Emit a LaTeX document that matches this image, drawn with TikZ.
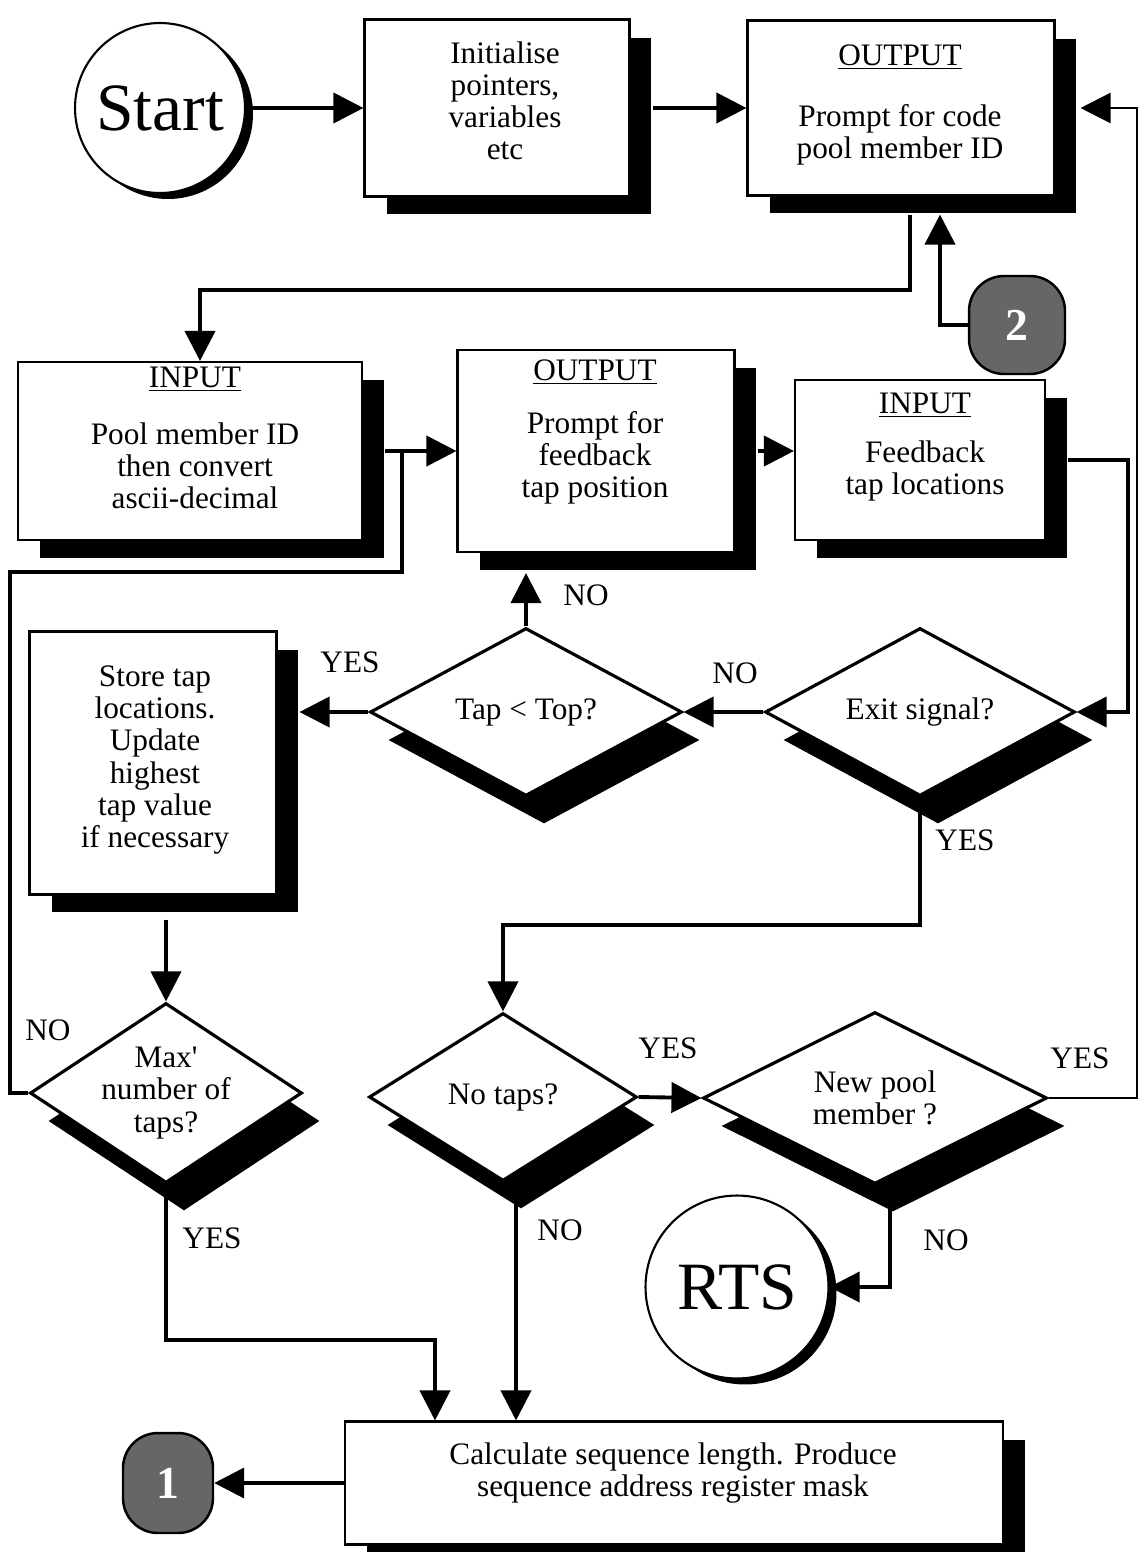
\documentclass[tikz,border=0pt]{standalone}
\usepackage{fontspec}
\setmainfont{Liberation Serif}
\newfontfamily\plainserif{Liberation Serif}[Ligatures=TeXOff]
\usetikzlibrary{shapes.geometric,shadows,arrows.meta,calc}
\begin{document}
\begin{tikzpicture}[x=0.02cm,y=-0.02cm,
  every node/.style={font=\fontsize{17.8}{18.3}\selectfont},
  box/.style={draw, line width=1.2pt, fill=white, rectangle, inner sep=0pt,
    drop shadow={shadow xshift=0.44cm, shadow yshift=-0.36cm, fill=black, opacity=1}},
  dia/.style={diamond, shape aspect=1.5, draw, line width=1.8pt, fill=white, inner sep=0pt, align=center,
    drop shadow={shadow xshift=0.36cm, shadow yshift=-0.56cm, fill=black, opacity=1}},
  term/.style={circle, draw, line width=1.2pt, fill=white, inner sep=0pt, font=\fontsize{38.5}{38.5}\selectfont,
    drop shadow={shadow xshift=0.16cm, shadow yshift=-0.12cm, fill=black, opacity=1}},
  conn/.style={draw, line width=1.4pt, fill=black!60, rounded corners=0.7cm, inner sep=0pt, text=white,
    font=\bfseries\fontsize{26}{26}\selectfont},
  txt/.style={align=center, inner sep=0pt},
  lbl/.style={inner sep=0pt},
  ln/.style={line width=2.2pt},
  arr/.style={line width=2.2pt, -{Triangle[length=0.6cm,width=0.6cm]}},
]
\path[use as bounding box] (0,0) rectangle (1139,1552);

% shapes
\node[term, minimum size=3.4cm] (start) at (160,108) {Start};
\node[box, minimum width=5.3cm, minimum height=3.54cm] (init) at (497,108) {};
\node[txt] (initT) at (505,101) {Initialise\\pointers,\\variables\\etc};
\node[box, minimum width=6.14cm, minimum height=3.5cm] (out1) at (901,108) {};
\node[txt] (out1T) at (900,105) {\underline{OUTPUT}\\[16.5pt]Prompt for code\\pool member ID};
\node[conn, minimum width=1.92cm, minimum height=1.96cm] (c2) at (1017,325) {2};

\node[box, minimum width=6.88cm, minimum height=3.56cm] (in1) at (190,451) {};
\node[txt] (in1T) at (195,438) {\underline{INPUT}\\[13.8pt]Pool member ID\\then convert\\ascii-decimal};
\node[box, minimum width=5.54cm, minimum height=4.04cm] (out2) at (596,451) {};
\node[txt] (out2T) at (595,432) {\underline{OUTPUT}\\[11.5pt]Prompt for\\feedback\\tap position};
\node[box, minimum width=5.0cm, minimum height=3.2cm] (in2) at (920,460) {};
\node[txt] (in2T) at (925,447) {\underline{INPUT}\\[9.8pt]Feedback\\tap locations};

\node[box, minimum width=4.94cm, minimum height=5.26cm] (store) at (153,763) {};
\node[txt] (storeT) at (155,760) {Store tap\\locations.\\Update\\highest\\tap value\\if necessary};

\node[dia, minimum width=6.24cm, minimum height=3.36cm] (tap) at (526,712) {Tap < Top?};
\node[dia, minimum width=6.2cm, minimum height=3.36cm] (exit) at (920,712) {Exit signal?};
\node[dia, minimum width=5.44cm, minimum height=3.6cm] (max) at (166,1093) {Max{\plainserif '}\\number of\\taps?};
\node[dia, minimum width=5.36cm, minimum height=3.36cm] (notaps) at (503,1097) {No taps?};
\node[dia, minimum width=6.88cm, minimum height=3.44cm] (newpool) at (875,1098) {New pool\\member ?};

\node[term, minimum size=3.66cm] (rts) at (737,1287) {RTS};
\node[box, minimum width=13.16cm, minimum height=2.46cm] (calc) at (674,1483) {};
\node[txt] (calcT) at (673,1473) {Calculate sequence length. Produce\\sequence address register mask};
\node[conn, minimum width=1.8cm, minimum height=2cm] (c1) at (168,1483) {1};

% connectors
\draw[arr] (start.east) -- (init.west);
\draw[arr] ($(init.east)+(22,0)$) -- (out1.west);
\coordinate (ra) at (1137,108);
\draw[arr, line width=1.4pt] (newpool.east) -| (ra) -- ($(out1.east)+(25,0)$);
\coordinate (d1) at (200,290);
\draw[arr] ($(out1.south)+(9,18)$) |- (d1) -- (d1 |- in1.north);
\draw[arr] (c2.west) -| ($(out1.south)+(39,18)$);
\draw[arr] ($(in1.east)+(22,0)$) -- (out2.west);
\coordinate (lp1) at (10,572);
\coordinate (lp2) at (402,451);
\draw[ln] (max.west) -| (lp1) -| (lp2);
\draw[arr] ($(out2.east)+(22,0)$) -- (out2.east -| in2.west);
\coordinate (ri) at (1128,712);
\draw[arr] ($(in2.east)+(22,0)$) -| (ri) -- (exit.east);
\draw[arr] (exit.west) -- (tap.east);
\draw[arr] (tap.north) -- ($(out2.south -| tap.north)+(0,20)$);
\draw[arr] (tap.west) -- ($(store.east |- tap.west)+(22,0)$);
\draw[arr] ($(store.south -| max.north)+(0,24)$) -- (max.north);
\coordinate (m1) at (435,1340);
\draw[arr] (max.south) |- (m1) -- (m1 |- calc.north);
\coordinate (e1) at (503,925);
\draw[arr] (exit.south) |- (e1) -- (notaps.north);
\draw[arr] (notaps.east) -- (newpool.west);
\coordinate (n1) at ($(notaps.south)+(13,0)$);
\draw[arr] (n1) -- (n1 |- calc.north);
\coordinate (p1) at ($(newpool.south)+(15,0)$);
\draw[arr] (p1) |- (rts.east);
\draw[arr] (calc.west) -- (c1.east);

% branch labels
\node[lbl] (l1) at (586,595) {NO};
\node[lbl] (l2) at (350,662) {YES};
\node[lbl] (l3) at (735,673) {NO};
\node[lbl] (l4) at (965,840) {YES};
\node[lbl] (l5) at (48,1030) {NO};
\node[lbl] (l6) at (212,1238) {YES};
\node[lbl] (l7) at (668,1048) {YES};
\node[lbl] (l8) at (560,1230) {NO};
\node[lbl] (l9) at (1080,1058) {YES};
\node[lbl] (l10) at (946,1240) {NO};
\end{tikzpicture}
\end{document}
